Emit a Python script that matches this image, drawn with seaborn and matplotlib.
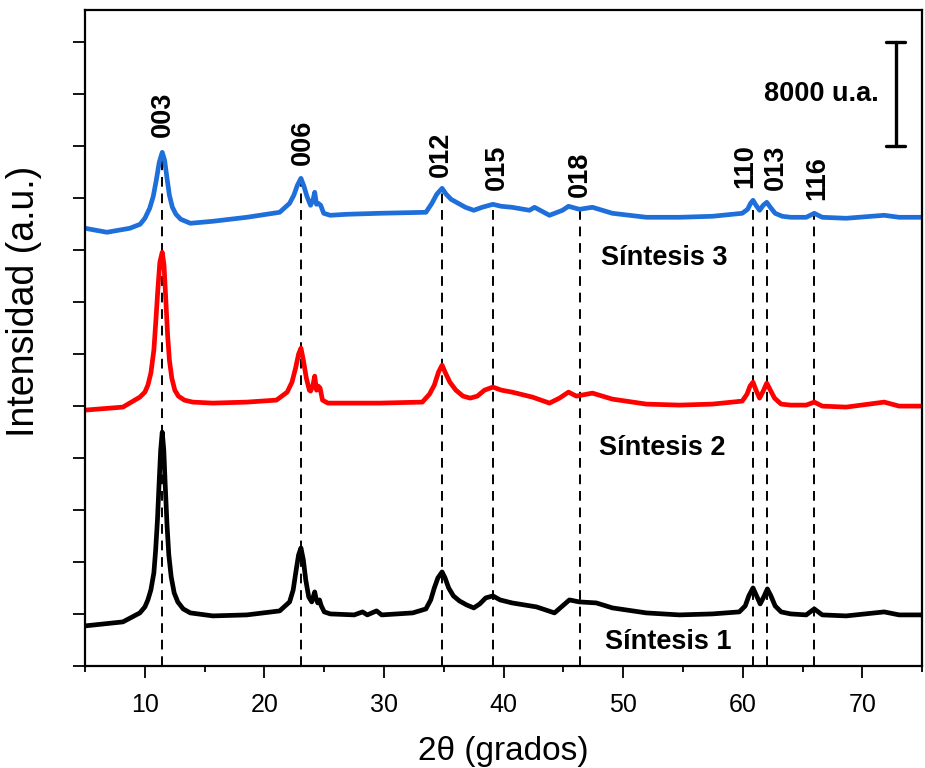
import numpy as np
import pandas as pd
import matplotlib
matplotlib.use("Agg")
import matplotlib.pyplot as plt
import seaborn as sns

# ---------------- data ----------------
tt_s1 = [5.0, 8.16, 9.58, 10.0, 10.25, 10.5, 10.75, 10.9, 11.05, 11.2, 11.32, 11.45, 11.58, 11.7,
         11.85, 12.0, 12.2, 12.45, 12.75, 13.2, 13.8, 15.68, 18.52, 21.27, 22.1, 22.4, 22.65,
         22.85, 23.05, 23.25, 23.45, 23.7, 23.95, 24.1, 24.2, 24.3, 24.45, 24.6, 24.75, 25.0,
         25.5, 27.5, 28.2, 28.6, 29.37, 29.8, 32.4, 33.5, 33.9, 34.2, 34.5, 34.85, 35.1, 35.4,
         35.8, 36.3, 36.9, 37.5, 38.0, 38.5, 39.1, 39.7, 40.7, 42.75, 44.25, 45.5, 46.33, 47.75,
         49.09, 51.93, 54.69, 57.45, 59.7, 60.2, 60.5, 60.85, 61.15, 61.45, 61.75, 62.05, 62.35,
         62.7, 63.2, 64.0, 65.3, 65.97, 66.64, 68.64, 71.82, 73.07, 75.0]
i_s1 = [3077, 3385, 4077, 4538, 5077, 5846, 7154, 8923, 11231, 14308, 16615, 18000, 16615, 13923,
        10846, 8538, 6846, 5615, 4923, 4385, 4077, 3846, 3923, 4231, 4923, 5846, 7385,
        8538, 9077, 8154, 6615, 5308, 4923, 5385, 5692, 5231, 4846, 5077, 4615, 4154,
        4000, 3923, 4154, 3923, 4231, 3923, 4077, 4385, 5077, 6000, 6769, 7231, 6769, 6000,
        5385, 5000, 4692, 4462, 4769, 5231, 5385, 5077, 4846, 4538, 4077, 5077, 4923, 4846,
        4462, 4077, 3923, 4000, 4154, 4615, 5385, 6000, 5385, 4769, 5308, 5923, 5385,
        4615, 4154, 4000, 3923, 4385, 3923, 3846, 4154, 3923, 3923]

tt_s2 = [5.0, 8.16, 9.58, 10.0, 10.25, 10.5, 10.75, 10.92, 11.08, 11.25, 11.45, 11.6, 11.75, 11.9,
         12.05, 12.25, 12.5, 12.8, 13.3, 14.0, 15.68, 18.52, 21.0, 21.9, 22.3, 22.6, 22.85,
         23.05, 23.25, 23.5, 23.75, 23.86, 24.05, 24.2, 24.35, 24.5, 24.65, 24.85, 25.3, 26.87,
         29.62, 33.2, 33.8, 34.2, 34.55, 34.85, 35.1, 35.5, 36.0, 36.6, 37.2, 37.8, 38.4, 39.1,
         39.8, 40.7, 42.41, 43.83, 44.67, 45.42, 46.08, 47.42, 49.09, 51.93, 54.69, 57.45, 59.95,
         60.35, 60.6, 60.85, 61.1, 61.4, 61.7, 62.0, 62.3, 62.65, 63.2, 64.0, 65.3, 65.97, 66.64,
         68.64, 71.82, 73.07, 75.0]
i_s2 = [19692, 19923, 20692, 21077, 21615, 22538, 24308, 26615, 28923, 31077, 31846, 30846, 28154, 25462,
        23538, 22154, 21231, 20769, 20462, 20308, 20231, 20308, 20462, 21077, 21846, 22923, 24000,
        24462, 23538, 22154, 21231, 21154, 21615, 22308, 21231, 21538, 21385, 20462, 20231, 20231,
        20231, 20308, 20923, 21615, 22615, 23154, 22615, 21846, 21231, 20769, 20615, 20769, 21231, 21462,
        21231, 21077, 20692, 20231, 20615, 21077, 20769, 21000, 20538, 20154, 20077, 20154, 20385,
        20923, 21538, 21846, 21231, 20615, 21154, 21769, 21231, 20615, 20154, 20077, 20077, 20308, 20000,
        19923, 20308, 20000, 20000]

tt_s3 = [5.0, 6.82, 8.74, 9.6, 10.0, 10.4, 10.7, 10.95, 11.2, 11.45, 11.65, 11.85, 12.05, 12.3,
         12.6, 13.0, 13.8, 15.68, 18.52, 21.27, 22.1, 22.45, 22.75, 23.05, 23.3, 23.55, 23.85,
         24.05, 24.2, 24.35, 24.5, 24.7, 24.95, 25.5, 26.87, 29.62, 33.5, 34.0, 34.4, 34.85,
         35.2, 35.6, 36.2, 36.8, 37.5, 38.2, 39.1, 39.8, 40.7, 42.16, 42.58, 43.83, 44.92,
         45.42, 46.33, 47.42, 49.09, 51.93, 54.69, 57.45, 59.95, 60.4, 60.65, 60.85, 61.1, 61.4,
         61.7, 62.0, 62.3, 62.7, 63.3, 64.0, 65.3, 65.97, 66.64, 68.64, 71.82, 73.07, 75.0]
i_s3 = [33692, 33385, 33692, 34000, 34462, 35231, 36154, 37385, 38769, 39538, 38923, 37538, 36231, 35308,
        34769, 34385, 34077, 34231, 34538, 34923, 35615, 36231, 37000, 37538, 36923, 36154, 35462,
        35846, 36462, 35538, 35615, 35462, 34846, 34692, 34769, 34846, 34923, 35615, 36308, 36769,
        36308, 35923, 35615, 35308, 35077, 35308, 35538, 35385, 35308, 35077, 35308, 34692, 35077,
        35385, 35154, 35308, 34846, 34538, 34538, 34615, 34846, 35154, 35615, 35846, 35462, 35077,
        35462, 35692, 35308, 34846, 34615, 34538, 34538, 34846, 34538, 34462, 34692, 34538, 34538]

series_names = ["Síntesis 1", "Síntesis 2", "Síntesis 3"]
series_colors = ["#000000", "#ff0000", "#1f6fdb"]

peak_labels = ["003", "006", "012", "015", "018", "110", "013", "116"]
peak_pos = [11.45, 23.05, 34.87, 39.1, 46.35, 60.85, 62.0, 65.95]
peak_line_top = [39538, 37538, 36769, 35538, 35154, 35077, 35308, 34846]
label_x = [11.5, 23.2, 34.75, 39.4, 46.35, 60.2, 62.8, 66.2]
label_y = [40692, 38538, 37615, 36615, 36077, 36769, 36615, 35846]

name_x = [53.8, 53.3, 53.4]
name_y = [1846, 16769, 31385]

scale_value = 8000
scale_base = 40000
scale_x = 72.8

# ---------------- build dataframe ----------------
frames = []
for name, tt, ii in zip(series_names, [tt_s1, tt_s2, tt_s3], [i_s1, i_s2, i_s3]):
    frames.append(pd.DataFrame({"2theta": tt, "I": ii, "serie": name}))
df = pd.concat(frames, ignore_index=True)

sns.set_style("ticks")
plt.rcParams["font.family"] = ["Liberation Sans", "DejaVu Sans"]
for key in ["text.color", "axes.labelcolor", "xtick.color", "ytick.color", "axes.edgecolor"]:
    plt.rcParams[key] = "black"

fig = plt.figure(figsize=(9.25, 7.68), dpi=100)
ax = fig.add_axes([0.092, 0.133, 0.905, 0.854])

sns.lineplot(data=df, x="2theta", y="I", hue="serie",
             palette=dict(zip(series_names, series_colors)),
             estimator=None, sort=False, linewidth=3.4, legend=False, ax=ax)
for ln in ax.get_lines():
    ln.set_solid_joinstyle("round")
    ln.set_solid_capstyle("round")

# dashed reference lines
for xp, top in zip(peak_pos, peak_line_top):
    ax.vlines(xp, 0, top, colors="black", linestyles=(0, (5, 3.5)), linewidth=1.4, zorder=1)

for lab, lx, ly in zip(peak_labels, label_x, label_y):
    ax.text(lx, ly, lab, rotation=90, ha="center", va="bottom",
            fontsize=19.5, fontweight="bold")

for name, nx, ny in zip(series_names, name_x, name_y):
    ax.text(nx, ny, name, ha="center", va="center", fontsize=19.5, fontweight="bold")

# scale bar
ax.plot([scale_x, scale_x], [scale_base, scale_base + scale_value], color="black", lw=2.4)
for yy in [scale_base, scale_base + scale_value]:
    ax.plot([scale_x - 0.8, scale_x + 0.8], [yy, yy], color="black", lw=2.4)
ax.text(scale_x - 1.4, scale_base + scale_value / 2, f"{scale_value} u.a.",
        ha="right", va="center", fontsize=19.5, fontweight="bold")

ax.set_xlim(5, 75)
ax.set_ylim(0, 50500)
ax.set_xticks(np.arange(10, 71, 10))
ax.set_xticks(np.arange(5, 76, 10), minor=True)
ax.set_yticks(np.arange(0, 48001, 4000))
ax.set_yticklabels([])
ax.tick_params(axis="both", which="major", direction="out", length=8.5, width=1.3,
               labelsize=18, pad=11)
ax.tick_params(axis="x", which="minor", direction="out", length=4.5, width=1.3)
for sp in ax.spines.values():
    sp.set_linewidth(1.6)
    sp.set_visible(True)

ax.set_xlabel("2θ (grados)", fontsize=24, labelpad=14)
ax.set_ylabel("Intensidad (a.u.)", fontsize=27)
ax.yaxis.set_label_coords(-0.052, 0.555)

fig.savefig("out.png", dpi=100)
